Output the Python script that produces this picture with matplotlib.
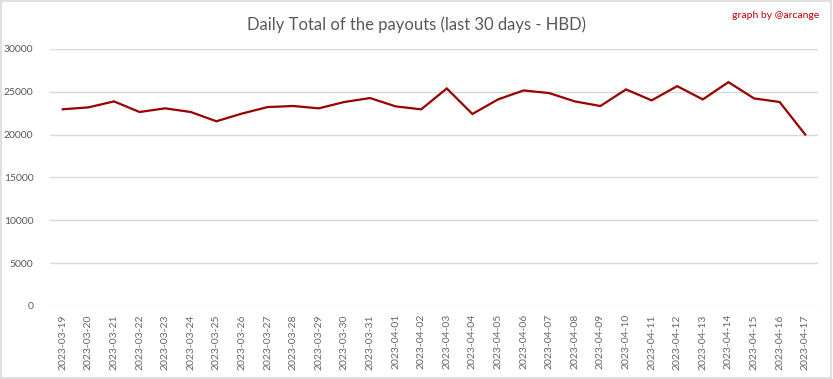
import matplotlib
matplotlib.use('Agg')
from matplotlib import pyplot as plt
from matplotlib.patches import Rectangle

plt.rcParams['font.family'] = ['Lato', 'DejaVu Sans']

dates = ['2023-03-19', '2023-03-20', '2023-03-21', '2023-03-22', '2023-03-23',
         '2023-03-24', '2023-03-25', '2023-03-26', '2023-03-27', '2023-03-28',
         '2023-03-29', '2023-03-30', '2023-03-31', '2023-04-01', '2023-04-02',
         '2023-04-03', '2023-04-04', '2023-04-05', '2023-04-06', '2023-04-07',
         '2023-04-08', '2023-04-09', '2023-04-10', '2023-04-11', '2023-04-12',
         '2023-04-13', '2023-04-14', '2023-04-15', '2023-04-16', '2023-04-17']
payouts = [22950, 23170, 23870, 22630, 23060, 22630, 21550, 22450, 23210, 23330,
           23060, 23800, 24260, 23290, 22940, 25380, 22400, 24100, 25150, 24840,
           23870, 23330, 25270, 23990, 25650, 24100, 26120, 24220, 23800, 20000]
yticks = [0, 5000, 10000, 15000, 20000, 25000, 30000]

grey = '#595959'

fig = plt.figure(figsize=(8.33, 3.79), dpi=100)
ax = fig.add_axes([0.060, 0.193, 0.922, 0.678])

xs = range(len(dates))
ax.plot(xs, payouts, color='#990000', linewidth=1.6, solid_joinstyle='miter')

ax.set_xlim(-0.5, len(dates) - 0.5)
ax.set_ylim(0, 30000)
ax.set_yticks(yticks)
ax.set_yticklabels([str(v) for v in yticks], fontsize=7.5, color=grey)
ax.set_xticks(list(xs))
ax.set_xticklabels(dates, rotation=90, fontsize=7.5, color='#666666')
ax.tick_params(length=0, pad=6)
ax.tick_params(axis='y', pad=12)
ax.grid(axis='y', color='#d9d9d9', linewidth=1)
ax.set_axisbelow(True)
for s in ax.spines.values():
    s.set_visible(False)

fig.text(0.50, 0.935, 'Daily Total of the payouts (last 30 days - HBD)',
         ha='center', va='center', fontsize=12, color=grey)
fig.text(0.984, 0.960, 'graph by @arcange', ha='right', va='center',
         fontsize=7.5, color='#c00000')

# рамка вокруг всего рисунка
fig.patches.append(Rectangle((0.001, 0.002), 0.997, 0.995, transform=fig.transFigure,
                             fill=False, edgecolor='#d9d9d9', linewidth=1.2))

fig.savefig('out.png', dpi=100)
